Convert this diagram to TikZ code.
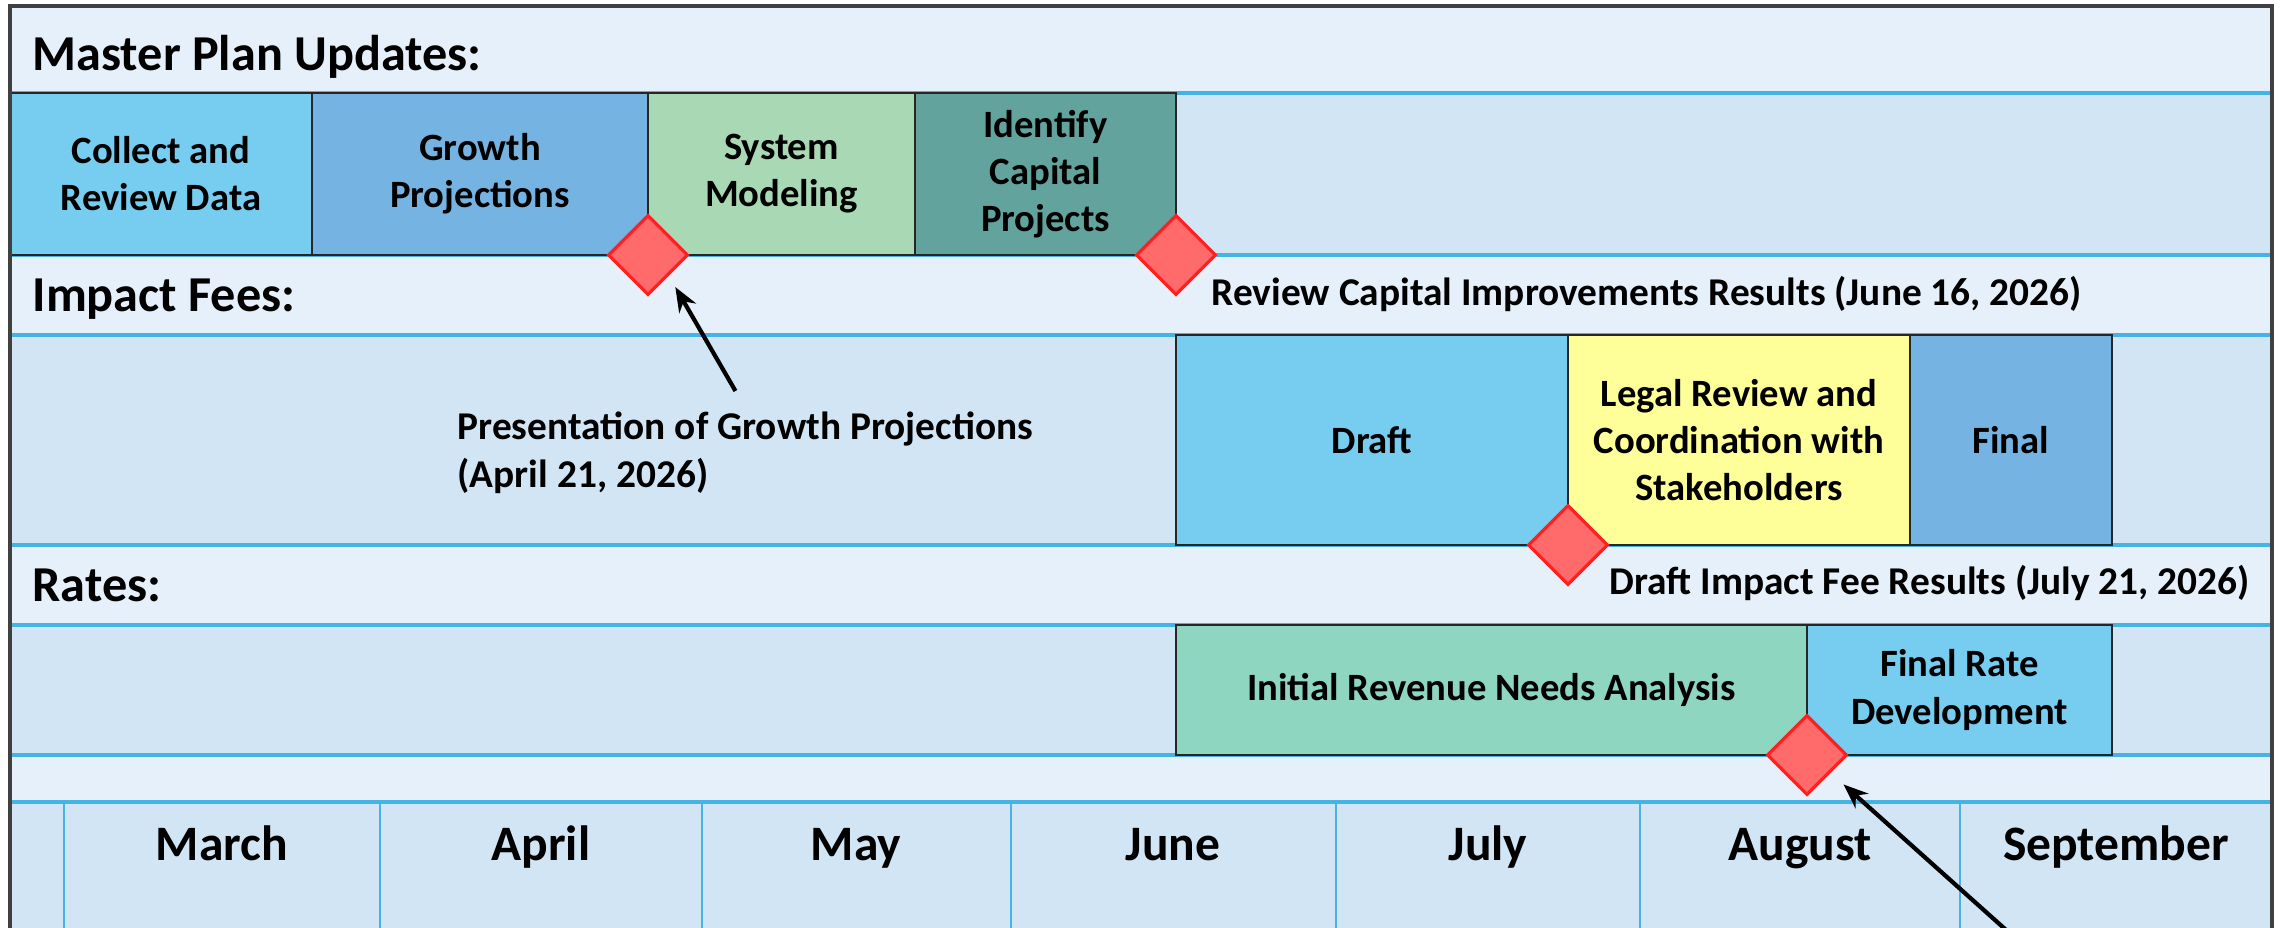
\documentclass[tikz,border=0pt]{standalone}
\usepackage{fontspec}
\setmainfont{Carlito}
\usetikzlibrary{arrows.meta,shapes.geometric}
\tikzset{>={Stealth[length=7pt,width=5.5pt]}}

\definecolor{bandlight}{HTML}{E6F0FA}
\definecolor{bandrow}{HTML}{D2E5F4}
\definecolor{gridblue}{HTML}{45B3E3}
\definecolor{skyblue}{HTML}{77CDEF}
\definecolor{midblue}{HTML}{75B4E2}
\definecolor{palegreen}{HTML}{A8D8B4}
\definecolor{tealish}{HTML}{63A39E}
\definecolor{paleyellow}{HTML}{FFFF99}
\definecolor{mint}{HTML}{8FD6C0}
\definecolor{msfill}{HTML}{FF6B6B}
\definecolor{msline}{HTML}{FF1F1F}

\tikzset{
  task/.style={draw=black!85, line width=0.7pt, inner sep=0pt, outer sep=0pt,
    align=center, anchor=west, font=\fontsize{11}{13.4}\selectfont\bfseries},
  milestone/.style={diamond, draw=msline, fill=msfill, line width=0.9pt,
    minimum width=0.8cm, minimum height=0.8cm, inner sep=0pt},
  hdr/.style={anchor=base west, inner sep=0pt, font=\fontsize{14.3}{16}\selectfont\bfseries},
  note/.style={anchor=base west, inner sep=0pt, font=\fontsize{11.2}{13.6}\selectfont\bfseries},
  month/.style={anchor=base, inner sep=0pt, font=\fontsize{14.1}{16}\selectfont\bfseries},
  band/.style={fill=bandrow, draw=gridblue, line width=1pt}
}

\begin{document}
\begin{tikzpicture}
\useasboundingbox (0,0) rectangle (22.8,9.28);
\clip (0,0) rectangle (22.8,9.28);
% background and row bands
\fill[bandlight] (0.10,-0.2) rectangle (22.72,9.22);
\draw[band] (0.10,6.73) rectangle (22.72,8.35);
\draw[band] (0.10,3.83) rectangle (22.72,5.93);
\draw[band] (0.10,1.73) rectangle (22.72,3.03);
\draw[band] (0.10,-0.2) rectangle (22.72,1.26);
% month columns
\draw[gridblue, line width=0.8pt] (0.64,-0.2) -- (0.64,1.26);
\draw[gridblue, line width=0.8pt] (3.80,-0.2) -- (3.80,1.26);
\draw[gridblue, line width=0.8pt] (7.02,-0.2) -- (7.02,1.26);
\draw[gridblue, line width=0.8pt] (10.11,-0.2) -- (10.11,1.26);
\draw[gridblue, line width=0.8pt] (13.36,-0.2) -- (13.36,1.26);
\draw[gridblue, line width=0.8pt] (16.40,-0.2) -- (16.40,1.26);
\draw[gridblue, line width=0.8pt] (19.60,-0.2) -- (19.60,1.26);
\node[month] (mar) at (2.22,0.67) {March};
\node[month] (apr) at (5.41,0.67) {April};
\node[month] (may) at (8.56,0.67) {May};
\node[month] (jun) at (11.73,0.67) {June};
\node[month] (jul) at (14.88,0.67) {July};
\node[month] (aug) at (18.00,0.67) {August};
\node[month] (sep) at (21.16,0.67) {September};
% section headings
\node[hdr] (mpu) at (0.32,8.57) {Master Plan Updates:};
\node[hdr] (fees) at (0.32,6.16) {Impact Fees:};
\node[hdr] (rates) at (0.32,3.26) {Rates:};
% master plan tasks
\node[task, fill=skyblue, minimum width=3.02cm, minimum height=1.62cm] (collect) at (0.10,7.54) {Collect and\\Review Data};
\node[task, fill=midblue, minimum width=3.36cm, minimum height=1.62cm] (growth) at (collect.east) {Growth\\Projections};
\node[task, fill=palegreen, minimum width=2.67cm, minimum height=1.62cm] (sysmod) at (growth.east) {System\\Modeling};
\node[task, fill=tealish, minimum width=2.61cm, minimum height=1.62cm] (capital) at (sysmod.east) {Identify\\Capital\\Projects};
% impact fee tasks
\node[task, fill=skyblue, minimum width=3.92cm, minimum height=2.10cm] (draft) at (11.76,4.88) {Draft};
\node[task, fill=paleyellow, minimum width=3.42cm, minimum height=2.10cm] (legal) at (draft.east) {Legal Review and\\Coordination with\\Stakeholders};
\node[task, fill=midblue, minimum width=2.02cm, minimum height=2.10cm] (final) at (legal.east) {Final};
% rate tasks
\node[task, fill=mint, minimum width=6.31cm, minimum height=1.30cm] (revenue) at (11.76,2.38) {Initial Revenue Needs Analysis};
\node[task, fill=skyblue, minimum width=3.05cm, minimum height=1.30cm] (finalrate) at (revenue.east) {Final Rate\\Development};
% milestones
\node[milestone] (ms1) at (growth.south east) {};
\node[milestone] (ms2) at (capital.south east) {};
\node[milestone] (ms3) at (draft.south east) {};
\node[milestone] (ms4) at (revenue.south east) {};
\node[note] (msrev) at (12.11,6.22) {Review Capital Improvements Results (June 16, 2026)};
\node[note] (msdraft) at (16.09,3.33) {Draft Impact Fee Results (July 21, 2026)};
\node[note, anchor=north west, align=left] (pres) at (4.57,5.17) {Presentation of Growth Projections\\(April 21, 2026)};
\coordinate (tail) at (20.15,-0.10);
\draw[->, line width=1.2pt, shorten >=1.3mm] ([shift={(-1mm,2mm)}]pres.north) -- (ms1.south east);
\draw[->, line width=1.2pt, shorten >=1.3mm] (tail) -- ([xshift=0.6mm]ms4.south east);
% frame
\draw[black!75, line width=0.9pt] (0.10,-0.2) -- (0.10,9.22) -- (22.72,9.22) -- (22.72,-0.2);
\end{tikzpicture}
\end{document}
